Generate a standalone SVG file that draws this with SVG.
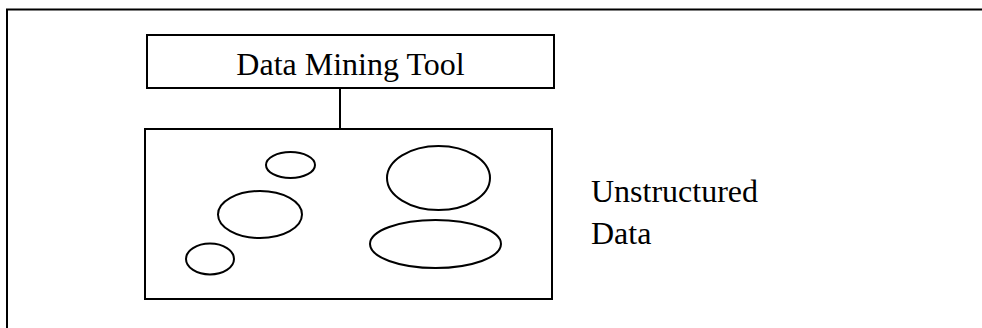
<svg xmlns="http://www.w3.org/2000/svg" width="982" height="328" viewBox="0 0 982 328">
  <style>
    .frame { fill: none; stroke: #000; stroke-width: 2; }
    .box { fill: #fff; stroke: #000; stroke-width: 2; }
    .blob { fill: none; stroke: #000; stroke-width: 2; }
    .link { fill: none; stroke: #000; stroke-width: 2; }
    .label { font-family: "Liberation Serif", "Times New Roman", serif; font-size: 32px; fill: #000; }
  </style>
  <rect width="982" height="328" fill="#fff"/>

  <!-- outer frame: top and left edges -->
  <path class="frame" d="M7 328 V9.5 H982"/>

  <g id="connectors">
    <line class="link" x1="340" y1="88" x2="340" y2="129"/>
  </g>

  <g id="tool">
    <rect class="box" x="147" y="35" width="407" height="53"/>
    <text class="label" x="350.5" y="75" text-anchor="middle">Data Mining Tool</text>
  </g>

  <g id="data">
    <rect class="box" x="145" y="129" width="407" height="170"/>
    <ellipse class="blob" cx="290.5" cy="165" rx="24.5" ry="13"/>
    <ellipse class="blob" cx="260" cy="214.5" rx="42" ry="23.5"/>
    <ellipse class="blob" cx="210" cy="259" rx="24" ry="15.5"/>
    <ellipse class="blob" cx="438.5" cy="178" rx="51.5" ry="32"/>
    <ellipse class="blob" cx="435.5" cy="244" rx="65.5" ry="24"/>
  </g>

  <g id="caption">
    <text class="label" x="591" y="202">Unstructured</text>
    <text class="label" x="591" y="244">Data</text>
  </g>
</svg>
